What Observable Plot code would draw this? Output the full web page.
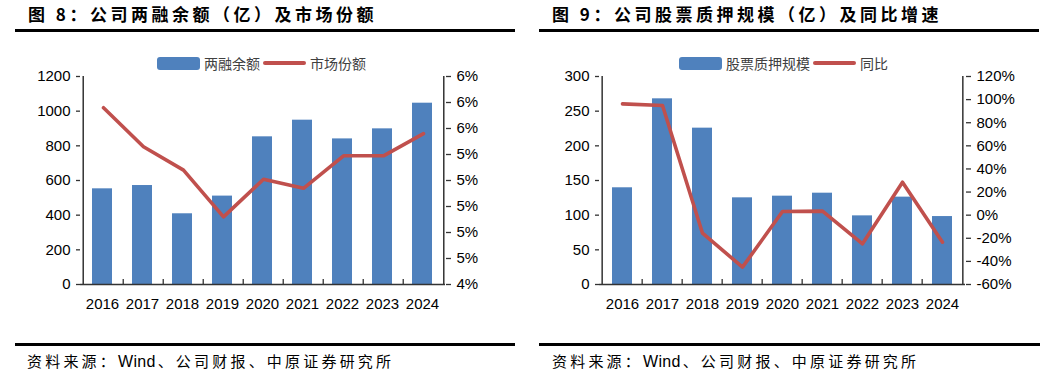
<!DOCTYPE html>
<html><head><meta charset="utf-8">
<script src="https://cdn.jsdelivr.net/npm/d3@7"></script>
<script src="https://cdn.jsdelivr.net/npm/@observablehq/plot@0.6"></script>
<style>
html,body{margin:0;padding:0;background:#fff;}
#root{position:relative;width:1044px;height:376px;overflow:hidden;background:#fff;font-family:"Liberation Sans",Arial,sans-serif;}
.title{position:absolute;top:3px;font-weight:bold;font-size:17px;font-family:"Noto Sans CJK SC",sans-serif;letter-spacing:3.5px;color:#000;white-space:nowrap;line-height:22px}
.rule{position:absolute;height:2.5px;background:#000}
.legend{position:absolute;top:54px;font-size:14px;font-family:"Noto Sans CJK SC",sans-serif;color:#404040;display:flex;align-items:center;white-space:nowrap;line-height:18px}
.sw{display:inline-block;width:43px;height:13px;background:#4F81BD;border-radius:3px;margin-right:4px}
.ln{display:inline-block;width:43px;height:3.5px;background:#C0504D;border-radius:2px;margin:0 4px 0 3px}
.src{position:absolute;top:351px;font-size:15px;font-family:"Noto Sans CJK SC",sans-serif;letter-spacing:3.2px;color:#000;white-space:nowrap;line-height:20px}
.src .en{font-family:"Liberation Sans",Arial,sans-serif;font-size:16px;letter-spacing:0.3px;margin-right:2px}
.plot{position:absolute;top:66px}
</style></head><body><div id="root"></div>
<script>
// ---------- data ----------
const years = ["2016","2017","2018","2019","2020","2021","2022","2023","2024"];
// 图8
const marginBalance = [552, 571, 408, 510, 852, 948, 840, 898, 1046]; // 两融余额（亿）
const marketShare = [5.76, 5.46, 5.28, 4.92, 5.21, 5.14, 5.39, 5.39, 5.56]; // 市场份额 %
const balanceTicks = [0, 200, 400, 600, 800, 1000, 1200];
const shareTicks = [4.4, 4.6, 4.8, 5.0, 5.2, 5.4, 5.6, 5.8, 6.0];
// 图9
const pledgeScale = [139.5, 267.8, 225.5, 125, 127.4, 131.7, 99, 126, 98]; // 股票质押规模（亿）
const pledgeYoY = [96.3, 94.9, -15.6, -45, 3.2, 3.5, -24.8, 28.5, -23.4]; // 同比 %
const pledgeTicks = [0, 50, 100, 150, 200, 250, 300];
const yoyTicks = [-60, -40, -20, 0, 20, 40, 60, 80, 100, 120];

// ---------- layout ----------
const W = 520, H = 250, MT = 10, MB = 32;
const AXIS = "#333";
const BLUE = "#4F81BD", RED = "#C0504D";
const baseStyle = {background: "transparent", fontFamily: "'Liberation Sans', Arial, sans-serif", fontSize: "15px", color: "#000", overflow: "visible"};

function barPlot({values, ticks, ml, mr}) {
  const data = years.map((y, i) => ({year: y, v: values[i]}));
  return Plot.plot({
    width: W, height: H, marginLeft: ml, marginRight: mr, marginTop: MT, marginBottom: MB,
    style: baseStyle,
    x: {type: "band", domain: years, paddingInner: 0.49, paddingOuter: 0.245, label: null},
    y: {domain: [ticks[0], ticks[ticks.length - 1]], label: null},
    marks: [
      Plot.barY(data, {x: "year", y: "v", fill: BLUE}),
      Plot.axisY(ticks, {tickSize: 4, tickPadding: 6, stroke: AXIS, strokeWidth: 1.3, fill: "#000", tickFormat: d => String(d), label: null}),
      Plot.axisX({tickSize: 0, tickPadding: 13.5, fill: "#000", label: null}),
      Plot.ruleY([ticks[0]], {stroke: AXIS, strokeWidth: 1.5})
    ]
  });
}

function linePlot({values, ticks, ml, mr, fmt}) {
  const data = years.map((y, i) => ({year: y, v: values[i]}));
  const step = (W - ml - mr) / years.length;
  const innerH = H - MT - MB;
  return Plot.plot({
    width: W, height: H, marginLeft: ml, marginRight: mr, marginTop: MT, marginBottom: MB,
    style: baseStyle,
    x: {type: "point", domain: years, padding: 0.5, axis: null},
    y: {domain: [ticks[0], ticks[ticks.length - 1]], label: null},
    marks: [
      Plot.ruleX([years[0]], {dx: -step / 2, stroke: AXIS, strokeWidth: 1.5}),
      Plot.ruleX([years[years.length - 1]], {dx: step / 2, stroke: AXIS, strokeWidth: 1.5}),
      Plot.ruleX(years.slice(1), {dx: -step / 2, insetTop: innerH - 5, stroke: AXIS, strokeWidth: 1.3}),
      Plot.axisY(ticks, {anchor: "right", tickSize: 5, tickPadding: 6, stroke: AXIS, strokeWidth: 1.3, fill: "#000", tickFormat: fmt, label: null}),
      Plot.lineY(data, {x: "year", y: "v", stroke: RED, strokeWidth: 3.6, strokeLinejoin: "round", strokeLinecap: "round"})
    ]
  });
}

const root = document.getElementById("root");
function add(el, left) {
  el.classList.add("plot");
  el.style.left = left + "px";
  el.style.background = "transparent";
  root.appendChild(el);
}
function html(s) { root.insertAdjacentHTML("beforeend", s); }

// 图8 panel
html(`<div class="title" style="left:28px">图 8：公司两融余额（亿）及市场份额</div>`);
html(`<div class="rule" style="left:15px;width:500px;top:29px"></div>`);
html(`<div class="legend" style="left:157px"><span class="sw"></span>两融余额<span class="ln"></span>市场份额</div>`);
add(barPlot({values: marginBalance, ticks: balanceTicks, ml: 80, mr: 75}), 0);
add(linePlot({values: marketShare, ticks: shareTicks, ml: 80, mr: 75, fmt: d => d.toFixed(0) + "%"}), 0);
html(`<div class="rule" style="left:15px;width:500px;top:343px"></div>`);
html(`<div class="src" style="left:27px">资料来源：<span class="en">Wind</span>、公司财报、中原证券研究所</div>`);

// 图9 panel
html(`<div class="title" style="left:552px">图 9：公司股票质押规模（亿）及同比增速</div>`);
html(`<div class="rule" style="left:539px;width:500px;top:29px"></div>`);
html(`<div class="legend" style="left:679px"><span class="sw"></span>股票质押规模<span class="ln"></span>同比</div>`);
add(barPlot({values: pledgeScale, ticks: pledgeTicks, ml: 80, mr: 74}), 519);
add(linePlot({values: pledgeYoY, ticks: yoyTicks, ml: 80, mr: 74, fmt: d => d + "%"}), 519);
html(`<div class="rule" style="left:539px;width:501px;top:343px"></div>`);
html(`<div class="src" style="left:552px">资料来源：<span class="en">Wind</span>、公司财报、中原证券研究所</div>`);
</script></body></html>
